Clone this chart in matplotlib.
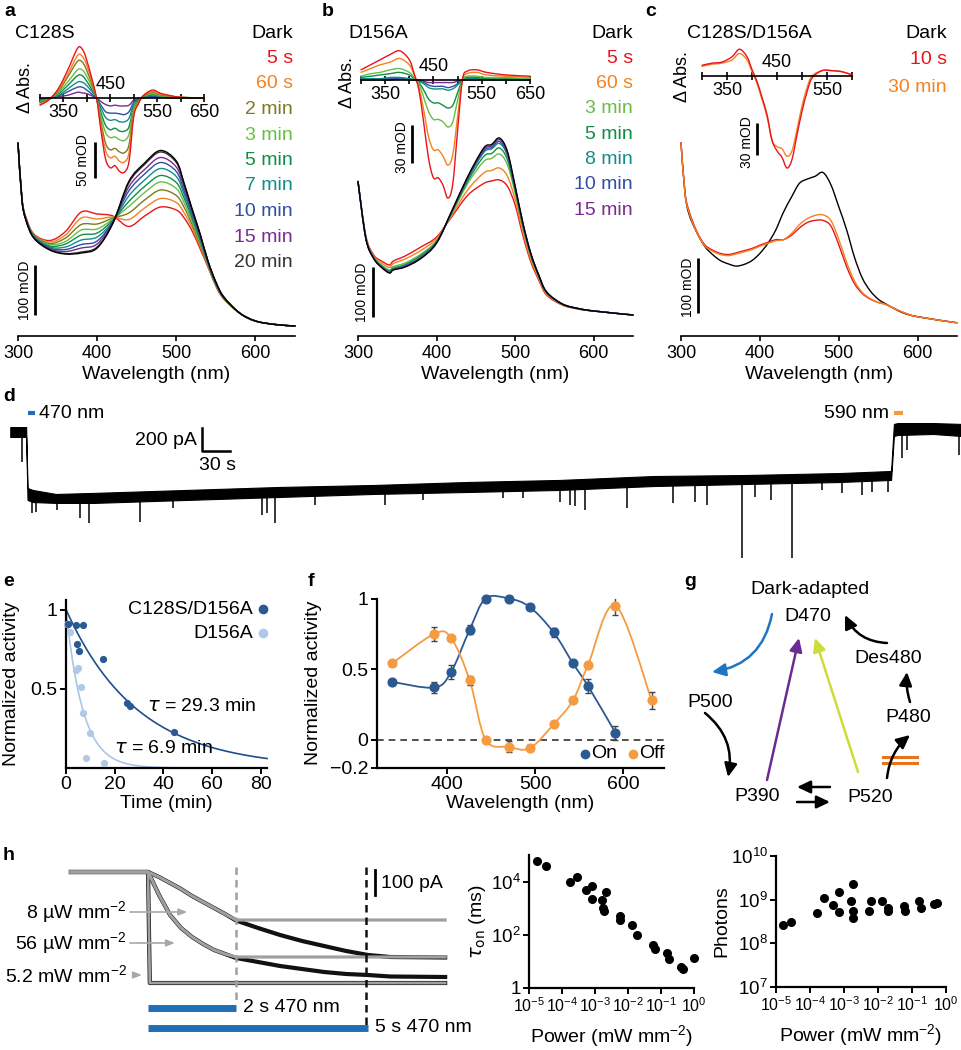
import numpy as np
import matplotlib
matplotlib.use('Agg')
import matplotlib.pyplot as plt
from matplotlib.path import Path
from matplotlib.patches import PathPatch
from matplotlib.lines import Line2D

plt.rcParams['font.family'] = ['Liberation Sans', 'DejaVu Sans']
plt.rcParams['mathtext.default'] = 'regular'
plt.rcParams['axes.linewidth'] = 1.2

W, H = 962, 1050

RED = '#e8141c'
ORANGE = '#f58220'
OLIVE = '#7d7a22'
LGREEN = '#6abd45'
GREEN = '#0f8f45'
TEAL = '#128e8a'
BLUE = '#2e4fa3'
PURPLE = '#7a2b8f'
DKBLUE = '#2b5a92'
LTBLUE = '#b0c9e6'
OFFOR = '#f59b42'

# ---------------- data: panel a (C128S) ----------------
a_wl = [300, 305, 310, 320, 340, 360, 380, 400, 420, 440, 460, 480, 500, 510,
        520, 530, 540, 550, 560, 580, 600, 625, 650]
a_labels = ['Dark', '5 s', '60 s', '2 min', '3 min', '5 min', '7 min', '10 min', '15 min', '20 min']
a_colors = ['black', RED, ORANGE, OLIVE, LGREEN, GREEN, TEAL, BLUE, PURPLE, '#333333']
a_abs = [
    [386, 272, 232, 196, 172, 164, 166, 176, 226, 309, 346, 371, 350, 305, 254, 205, 150, 108, 78, 46, 30, 23, 20],
    [386, 275, 238, 204, 191, 209, 248, 244, 240, 219, 240, 258, 252, 236, 210, 175, 138, 100, 74, 46, 30, 23, 20],
    [386, 275, 237, 203, 188, 202, 236, 234, 238, 233, 256, 275, 267, 246, 217, 180, 140, 101, 75, 46, 30, 23, 20],
    [386, 274, 236, 202, 185, 196, 223, 224, 236, 246, 272, 292, 281, 257, 223, 184, 142, 102, 75, 46, 30, 23, 20],
    [386, 274, 235, 200, 183, 189, 212, 214, 234, 259, 287, 308, 295, 266, 229, 188, 143, 104, 76, 46, 30, 23, 20],
    [386, 273, 235, 200, 180, 184, 202, 206, 232, 269, 299, 321, 307, 275, 235, 192, 145, 104, 76, 46, 30, 23, 20],
    [386, 273, 234, 199, 178, 178, 192, 198, 230, 280, 312, 335, 319, 283, 240, 195, 146, 105, 77, 46, 30, 23, 20],
    [386, 273, 233, 198, 176, 173, 183, 190, 229, 290, 324, 347, 329, 290, 245, 199, 148, 106, 77, 46, 30, 23, 20],
    [386, 272, 233, 197, 174, 169, 176, 184, 228, 298, 333, 357, 338, 297, 249, 201, 149, 107, 78, 46, 30, 23, 20],
    [386, 272, 232, 196, 173, 165, 168, 178, 226, 306, 343, 368, 347, 303, 253, 204, 150, 108, 78, 46, 30, 23, 20],
]
ai_wl = [300, 320, 340, 360, 380, 390, 400, 420, 430, 440, 450, 460, 470, 480,
         490, 500, 510, 520, 540, 560, 600, 650]
ai_diff = [
    [-10, -2, 14, 40, 69, 68, 52, 2, -45, -85, -97, -94, -102, -103, -88, -26, -8, 3, 11, 6, 1, 0],
    [-9, -2, 12, 34, 59, 58, 45, 2, -39, -73, -83, -81, -88, -89, -76, -22, -7, 3, 9, 5, 1, 0],
    [-7, -1, 10, 30, 51, 50, 38, 1, -33, -63, -72, -70, -75, -76, -65, -19, -6, 2, 8, 4, 1, 0],
    [-6, -1, 8, 23, 39, 39, 30, 1, -26, -48, -55, -54, -58, -59, -50, -15, -5, 2, 6, 3, 1, 0],
    [-5, -1, 6, 18, 31, 31, 23, 1, -20, -38, -44, -42, -46, -46, -40, -12, -4, 1, 5, 3, 0, 0],
    [-3, -1, 4, 13, 22, 22, 17, 1, -14, -27, -31, -30, -33, -33, -28, -8, -3, 1, 4, 2, 0, 0],
    [-2, 0, 3, 9, 15, 15, 11, 0, -10, -19, -21, -21, -22, -23, -19, -6, -2, 1, 2, 1, 0, 0],
    [-1, 0, 2, 4, 8, 7, 6, 0, -5, -9, -11, -10, -11, -11, -10, -3, -1, 0, 1, 1, 0, 0],
]

# ---------------- data: panel b (D156A) ----------------
b_wl = [300, 310, 320, 330, 340, 345, 360, 380, 400, 420, 440, 460, 470, 480,
        490, 500, 510, 520, 530, 540, 560, 580, 600, 650]
b_labels = ['Dark', '5 s', '60 s', '3 min', '5 min', '8 min', '10 min', '15 min']
b_colors = ['black', RED, ORANGE, LGREEN, GREEN, TEAL, BLUE, PURPLE]
b_abs = [
    [309, 195, 155, 137, 126, 132, 138, 155, 186, 252, 320, 376, 383, 396, 370, 300, 225, 165, 122, 88, 64, 55, 50, 42],
    [309, 200, 162, 150, 142, 150, 160, 178, 198, 240, 282, 305, 310, 312, 300, 262, 200, 148, 112, 82, 62, 54, 50, 42],
    [309, 199, 160, 146, 137, 145, 154, 171, 195, 243, 293, 326, 331, 336, 320, 273, 207, 153, 115, 84, 63, 54, 50, 42],
    [309, 197, 158, 142, 132, 139, 146, 164, 191, 247, 306, 349, 355, 364, 343, 286, 215, 159, 118, 86, 63, 55, 50, 42],
    [309, 196, 157, 140, 130, 136, 143, 161, 189, 249, 311, 359, 365, 376, 353, 291, 219, 161, 120, 87, 64, 55, 50, 42],
    [309, 196, 156, 139, 128, 134, 141, 158, 188, 250, 315, 367, 374, 385, 361, 295, 222, 163, 121, 87, 64, 55, 50, 42],
    [309, 195, 156, 138, 127, 133, 140, 157, 187, 251, 317, 370, 377, 389, 364, 297, 223, 164, 121, 88, 64, 55, 50, 42],
    [309, 195, 155, 138, 127, 133, 139, 156, 186, 252, 318, 373, 380, 393, 367, 298, 224, 164, 122, 88, 64, 55, 50, 42],
]
bi_wl = [300, 320, 340, 360, 380, 400, 410, 420, 430, 440, 450, 460, 470, 480,
         490, 500, 510, 520, 540, 560, 600, 650]
bi_diff = [
    [8, 12, 16, 20, 23, 16, 5, -8, -34, -62, -77, -77, -83, -93, -82, -40, 0, 7, 8, 6, 4, 3],
    [6, 9, 12, 14, 17, 12, 4, -6, -24, -45, -55, -55, -60, -67, -59, -29, 0, 5, 6, 4, 3, 2],
    [3, 5, 6, 8, 9, 6, 2, -3, -14, -25, -31, -31, -33, -37, -33, -16, 0, 3, 3, 2, 2, 1],
    [2, 3, 4, 5, 6, 4, 1, -2, -8, -15, -18, -18, -20, -22, -20, -10, 0, 2, 2, 1, 1, 1],
    [1, 1, 1, 2, 2, 1, 0, -1, -3, -6, -7, -7, -7, -8, -7, -4, 0, 1, 1, 0, 0, 0],
    [1, 1, 1, 1, 1, 1, 0, -1, -2, -4, -5, -5, -5, -6, -5, -3, 0, 0, 1, 0, 0, 0],
    [0, 0, 0, 0, 1, 0, 0, 0, -1, -2, -2, -2, -2, -2, -2, -1, 0, 0, 0, 0, 0, 0],
]

# ---------------- data: panel c (C128S/D156A) ----------------
c_wl = [300, 305, 310, 320, 330, 340, 350, 360, 370, 380, 390, 400, 410, 420, 430,
        440, 450, 460, 470, 480, 490, 500, 510, 520, 530, 540, 550, 560, 580, 600, 650]
c_labels = ['Dark', '10 s', '30 min']
c_colors = ['black', RED, ORANGE]
c_abs = [
    [351, 260, 222, 188, 163, 148, 137, 131, 127, 130, 137, 150, 168, 192, 225,
     252, 277, 285, 290, 297, 275, 235, 193, 143, 105, 82, 67, 58, 43, 35, 24],
    [351, 262, 228, 190, 166, 156, 150, 148, 151, 155, 159, 165, 170, 175, 175,
     183, 196, 206, 210, 210, 200, 166, 126, 95, 77, 67, 61, 57, 44, 35, 24],
    [351, 260, 225, 188, 164, 154, 148, 146, 149, 153, 157, 163, 168, 173, 175,
     186, 202, 213, 219, 220, 210, 176, 134, 100, 79, 68, 61, 57, 44, 35, 24],
]
ci_wl = [300, 320, 340, 360, 375, 390, 400, 410, 420, 430, 440, 450, 460, 470,
         480, 490, 500, 510, 520, 540, 560, 580, 600]
ci_diff = [
    [10, 12, 13, 18, 25, 18, 6, -5, -20, -36, -60, -70, -76, -86, -78, -55, -33, -15, -2, 5, 5, 4, 1],
    [9, 11, 12, 15, 21, 15, 4, -7, -22, -38, -60, -66, -68, -75, -70, -50, -28, -11, 0, 5, 5, 4, 1],
]

# ---------------- data: panel d (photocurrent) ----------------
d_time = [11, 28, 29.5, 35, 60, 100, 200, 300, 400, 500, 600, 700, 800, 900, 955, 958, 962, 1000, 1031]
d_upper = [43, 43, -487, -504, -539, -530, -504, -478, -461, -435, -417, -383, -374, -357, -339, 70, 78, 78, 70]
d_lower = [-43, -43, -591, -609, -617, -617, -591, -565, -539, -522, -504, -470, -452, -435, -417, -35, -26, -17, -35]
d_spike_t = [23.6, 34.3, 38.6, 61.1, 85.7, 95.4, 150, 185, 281, 286, 295, 338, 413, 453, 539, 561,
             600, 611, 616, 627, 672, 721, 745, 758, 795, 809, 826, 849, 881, 902, 924, 935, 952,
             967, 972, 1028]
d_spike_i = [-261, -704, -696, -678, -748, -791, -783, -661, -722, -704, -791, -635, -635, -591, -574, -574,
             -609, -635, -643, -678, -661, -617, -609, -635, -1096, -565, -591, -1096, -504, -530, -548, -522, -522,
             -226, -157, -200]

# ---------------- data: panel e ----------------
e_t_dark = [0.9, 4.1, 6.9, 4.4, 5.2, 15.3, 24.9, 26.4, 44.4]
e_v_dark = [0.91, 0.90, 0.90, 0.78, 0.74, 0.69, 0.41, 0.39, 0.23]
e_t_light = [0.6, 1.6, 4.1, 5.0, 6.2, 6.9, 9.8, 8.4, 15.4]
e_v_light = [0.91, 0.86, 0.62, 0.63, 0.51, 0.35, 0.22, 0.06, 0.03]
tau_dark = 29.3
tau_light = 6.9

# ---------------- data: panel f ----------------
f_wl = [338, 386, 405, 426, 444, 470, 494, 521, 543, 560, 591, 632]
f_on = [0.41, 0.37, 0.48, 0.78, 1.0, 1.0, 0.94, 0.76, 0.54, 0.38, 0.05]
f_on_err = [0.02, 0.04, 0.05, 0.03, 0.02, 0.02, 0.02, 0.03, 0.02, 0.05, 0.05]
f_off = [0.54, 0.75, 0.72, 0.42, 0.0, -0.05, -0.06, 0.11, 0.28, 0.53, 0.95, 0.28]
f_off_err = [0.02, 0.05, 0.02, 0.03, 0.02, 0.04, 0.02, 0.02, 0.02, 0.02, 0.07, 0.06]

# ---------------- data: panel h ----------------
h_t_gray = [-1.75, 0, 0.25, 0.5, 0.75, 1.0, 1.25, 1.5, 1.75, 2.0, 6.75]
h_56_gray = [0, 0, -92, -172, -224, -260, -288, -312, -328, -340, -340]
h_8_gray = [0, 0, -20, -44, -68, -96, -120, -144, -168, -192, -192]
h_t_black = [-1.75, 0, 0.25, 0.5, 0.75, 1.0, 1.25, 1.5, 1.75, 2.0, 2.5, 3.0, 3.5, 4.0, 4.5, 5.0, 5.5, 6.75]
h_56_black = [0, 0, -92, -172, -224, -260, -288, -312, -328, -344, -360, -376, -388, -400, -408, -412, -418, -420]
h_8_black = [0, 0, -20, -44, -68, -96, -120, -144, -168, -194, -224, -252, -276, -296, -316, -332, -340, -342]
h_t_52 = [-1.75, 0, 0.04, 6.75]
h_52 = [0, 0, -444, -444]

tau_power = [1.8e-5, 3.2e-5, 1.7e-4, 2.8e-4, 5.4e-4, 7.9e-4, 7.9e-4, 1.6e-3, 2.1e-3, 1.8e-3, 1.9e-3,
             5.8e-3, 5.8e-3, 0.013, 0.019, 0.056, 0.066, 0.15, 0.17, 0.40, 0.48, 1.0]
tau_on = [5.9e4, 3.8e4, 1.0e4, 1.45e4, 5000, 7100, 2300, 2100, 4000, 1020, 760,
          525, 350, 240, 100, 42, 29, 21, 12, 6.3, 5.4, 13]
ph_power = [1.6e-5, 2.7e-5, 1.6e-4, 2.6e-4, 4.9e-4, 7.2e-4, 7.2e-4, 1.6e-3, 1.9e-3, 1.9e-3, 1.9e-3,
            5.5e-3, 6.2e-3, 0.0135, 0.0195, 0.0195, 0.058, 0.063, 0.16, 0.18, 0.45, 0.54]
photons = [2.6e8, 3.0e8, 4.9e8, 1.12e9, 7.6e8, 1.48e9, 5.1e8, 9.3e8, 2.24e9, 5.6e8, 3.9e8,
           5.6e8, 9.3e8, 9.3e8, 6.3e8, 5.6e8, 7.2e8, 5.6e8, 9.3e8, 6.3e8, 7.8e8, 8.3e8]


fig = plt.figure(figsize=(W / 100, H / 100), dpi=100)


def px_axes(x0, y0, x1, y1):
    return fig.add_axes([x0 / W, 1 - y1 / H, (x1 - x0) / W, (y1 - y0) / H])


def ftext(x, y, s, **kw):
    kw.setdefault('ha', 'left')
    kw.setdefault('va', 'center')
    return fig.text(x / W, 1 - y / H, s, **kw)


def fdot(x, y, color, ms):
    fig.add_artist(Line2D([x / W], [1 - y / H], marker='o', ms=ms, color=color,
                          ls='none', transform=fig.transFigure))


def smooth(ax, xs, ys, color, lw=1.0, z=2):
    # smooth line through the points (Catmull-Rom drawn as Bezier segments)
    pts = list(zip(xs, ys))
    verts = [pts[0]]
    codes = [Path.MOVETO]
    n = len(pts)
    for i in range(n - 1):
        p0 = pts[i - 1] if i > 0 else pts[i]
        p1, p2 = pts[i], pts[i + 1]
        p3 = pts[i + 2] if i + 2 < n else pts[i + 1]
        c1 = (p1[0] + (p2[0] - p0[0]) / 6, p1[1] + (p2[1] - p0[1]) / 6)
        c2 = (p2[0] - (p3[0] - p1[0]) / 6, p2[1] - (p3[1] - p1[1]) / 6)
        verts += [c1, c2, p2]
        codes += [Path.CURVE4] * 3
    patch = PathPatch(Path(verts, codes), fill=False, edgecolor=color, lw=lw,
                      zorder=z, capstyle='round', joinstyle='round')
    patch.set_clip_on(False)
    ax.add_patch(patch)


def spectra_axes(x0, x1, ymax):
    ax = px_axes(x0, 140, x1, 336)
    ax.set_xlim(300, 650)
    ax.set_ylim(0, ymax)
    for s in ['top', 'right', 'left']:
        ax.spines[s].set_visible(False)
    ax.set_yticks([])
    ax.set_xticks([300, 400, 500, 600])
    ax.tick_params(axis='x', direction='out', length=3.6, width=1.2, labelsize=13, pad=3)
    ax.set_xlabel('Wavelength (nm)', fontsize=14, labelpad=3)
    ax.patch.set_visible(False)
    return ax


def inset_axes(x0, x1, y0, y1, xmax, ylo, yhi, ticks, labels, above):
    ax = px_axes(x0, y0, x1, y1)
    ax.set_xlim(300, xmax)
    ax.set_ylim(ylo, yhi)
    for s in ['top', 'right', 'left']:
        ax.spines[s].set_visible(False)
    ax.spines['bottom'].set_position(('data', 0))
    ax.set_yticks([])
    ax.set_xticks(ticks)
    ax.set_xticklabels(labels)
    ax.tick_params(axis='x', direction='inout', length=6, width=1.2, labelsize=13, pad=1.5)
    ax.annotate(str(above), xy=(above, 0), xytext=(0, 3.5), textcoords='offset points',
                ha='center', va='bottom', fontsize=13)
    ax.patch.set_visible(False)
    return ax


def scale_bar(ax, x, y0, y1, label, lx, ly):
    ax.plot([x, x], [y0, y1], color='black', lw=2, solid_capstyle='butt', clip_on=False)
    ax.text(lx, ly, label, rotation=90, ha='center', va='center', fontsize=10)


# ================= panel a =================
ftext(4, 12, 'a', fontsize=14, fontweight='bold')
ftext(15, 33, 'C128S', fontsize=14)
for i, (lab, col) in enumerate(zip(a_labels, a_colors)):
    ftext(293, 33 + 25.5 * i, lab, color=col, ha='right', fontsize=14)
ax_a = spectra_axes(18, 295, 392)
for k in list(range(1, 10)) + [0]:
    smooth(ax_a, a_wl, a_abs[k], a_colors[k], lw=1.0)
scale_bar(ax_a, 321.5, 42, 142, '100 mOD', 309, 92)
ax_ai = inset_axes(40, 204, 40, 180, 650, -113.9, 80.6,
                   [300, 350, 400, 450, 500, 550, 600, 650],
                   ['', '350', '', '', '', '550', '', '650'], 450)
for k in range(len(ai_diff) - 1, -1, -1):
    smooth(ax_ai, ai_wl, ai_diff[k], a_colors[k + 1], lw=1.0)
scale_bar(ax_ai, 417, -61, -111, '50 mOD', 391.5, -86)
ftext(25, 88, 'Δ Abs.', rotation=90, ha='center', fontsize=13)

# ================= panel b =================
ftext(322, 12, 'b', fontsize=14, fontweight='bold')
ftext(348, 33, 'D156A', fontsize=14)
for i, (lab, col) in enumerate(zip(b_labels, b_colors)):
    ftext(633, 33 + 25.3 * i, lab, color=col, ha='right', fontsize=14)
ax_b = spectra_axes(358, 633, 392)
for k in list(range(1, 8)) + [0]:
    smooth(ax_b, b_wl, b_abs[k], b_colors[k], lw=1.0)
scale_bar(ax_b, 319, 38, 138, '100 mOD', 305, 88)
ax_bi = inset_axes(361, 530, 40, 205, 650, -98.4, 31.5,
                   [300, 350, 400, 450, 500, 550, 600, 650],
                   ['', '350', '', '', '', '550', '', '650'], 450)
for k in range(len(bi_diff) - 1, -1, -1):
    smooth(ax_bi, bi_wl, bi_diff[k], b_colors[k + 1], lw=1.0)
scale_bar(ax_bi, 405.6, -35.4, -65.4, '30 mOD', 385, -53)
ftext(348, 83, 'Δ Abs.', rotation=90, ha='center', fontsize=13)

# ================= panel c =================
ftext(645, 12, 'c', fontsize=14, fontweight='bold')
ftext(687, 33, 'C128S/D156A', fontsize=14)
for i, (lab, col) in enumerate(zip(c_labels, c_colors)):
    ftext(947, 33 + 27 * i, lab, color=col, ha='right', fontsize=14)
ax_c = spectra_axes(681, 957, 356)
for k in [0, 1, 2]:
    smooth(ax_c, c_wl, c_abs[k], c_colors[k], lw=1.0)
scale_bar(ax_c, 321.5, 42, 142, '100 mOD', 309, 89)
ax_ci = inset_axes(702, 852, 44, 172, 600, -89.7, 29.9,
                   [300, 350, 400, 450, 500, 550, 600],
                   ['', '350', '', '', '', '550', ''], 450)
for k in [1, 0]:
    smooth(ax_ci, ci_wl, ci_diff[k], c_colors[k + 1], lw=1.0)
scale_bar(ax_ci, 410, -44, -74, '30 mOD', 390, -62)
ftext(683, 77, 'Δ Abs.', rotation=90, ha='center', fontsize=13)

# ================= panel d =================
ftext(3, 396, 'd', fontsize=14, fontweight='bold')
ax_d = px_axes(0, 405, 962, 565)
ax_d.set_xlim(0, 1031)
ax_d.set_ylim(-1157, 235)
ax_d.axis('off')
ax_d.fill_between(d_time, d_lower, d_upper, color='black', lw=0.8)
spike_top = np.interp(d_spike_t, d_time, d_lower)
ax_d.vlines(d_spike_t, d_spike_i, spike_top, color='black', lw=1.1)
ax_d.plot([30, 37.5], [165, 165], color='#1f6fb7', lw=3, solid_capstyle='butt')
ax_d.text(42, 165, '470 nm', ha='left', va='center', fontsize=14)
ax_d.plot([958, 968], [165, 165], color=OFFOR, lw=3, solid_capstyle='butt')
ax_d.text(953, 165, '590 nm', ha='right', va='center', fontsize=14)
ax_d.plot([216.5, 216.5, 246.5], [35, -165, -165], color='black', lw=1.8)
ax_d.text(211, -70, '200 pA', ha='right', va='center', fontsize=14)
ax_d.text(232.6, -287, '30 s', ha='center', va='center', fontsize=14)

# ================= panel e =================
ftext(3, 581, 'e', fontsize=14, fontweight='bold')
ax_e = px_axes(66, 600, 267, 768)
ax_e.set_xlim(0, 82.5)
ax_e.set_ylim(0, 1.06)
for s in ['top', 'right']:
    ax_e.spines[s].set_visible(False)
for s in ['left', 'bottom']:
    ax_e.spines[s].set_linewidth(1.6)
ax_e.set_xticks([0, 20, 40, 60, 80])
ax_e.set_yticks([0.5, 1])
ax_e.set_yticklabels(['0.5', '1'])
ax_e.tick_params(direction='out', length=4, width=1.4, labelsize=14, pad=2)
ax_e.set_xlabel('Time (min)', fontsize=14, labelpad=1)
tt = np.linspace(0, 82.5, 300)
ax_e.plot(tt, np.exp(-tt / tau_light), color='#a9c6e8', lw=1.2, clip_on=False)
ax_e.plot(tt, np.exp(-tt / tau_dark), color='#1f4e8c', lw=1.2, clip_on=False)
ax_e.plot(e_t_light, e_v_light, 'o', color=LTBLUE, ms=4.2, clip_on=False, zorder=3)
ax_e.plot(e_t_dark, e_v_dark, 'o', color=DKBLUE, ms=4.2, clip_on=False, zorder=3)
ax_e.text(33.2, 0.39, r'$\mathit{\tau}$ = %.1f min' % tau_dark, fontsize=14, ha='left', va='center')
ax_e.text(19.8, 0.12, r'$\mathit{\tau}$ = %.1f min' % tau_light, fontsize=14, ha='left', va='center')
ftext(12, 684, 'Normalized activity', rotation=90, ha='center', fontsize=14)
ftext(253, 609, 'C128S/D156A', ha='right', fontsize=14)
ftext(253, 633, 'D156A', ha='right', fontsize=14)
fdot(263, 609, DKBLUE, 6)
fdot(263, 633, LTBLUE, 6)

# ================= panel f =================
ftext(308, 581, 'f', fontsize=14, fontweight='bold')
ax_f = px_axes(376.7, 598.5, 664, 768)
ax_f.set_xlim(320.7, 646)
ax_f.set_ylim(-0.2, 1.0)
for s in ['top', 'right']:
    ax_f.spines[s].set_visible(False)
for s in ['left', 'bottom']:
    ax_f.spines[s].set_linewidth(1.6)
ax_f.set_xticks([400, 500, 600])
ax_f.set_yticks([-0.2, 0, 0.5, 1])
ax_f.set_yticklabels(['\u22120.2', '0', '0.5', '1'])
ax_f.tick_params(direction='out', length=4, width=1.4, labelsize=14, pad=2)
ax_f.set_xlabel('Wavelength (nm)', fontsize=14, labelpad=1)
ax_f.plot([320.7, 646], [0, 0], ls=(0, (4, 3)), color='#333333', lw=1.2, clip_on=False)
smooth(ax_f, f_wl[:len(f_on)], f_on, DKBLUE, lw=1.3)
smooth(ax_f, f_wl, f_off, OFFOR, lw=1.3)
ax_f.errorbar(f_wl[:len(f_on)], f_on, yerr=f_on_err, fmt='none', ecolor='#444444',
              elinewidth=1, capsize=2.5, capthick=1, zorder=3)
ax_f.errorbar(f_wl, f_off, yerr=f_off_err, fmt='none', ecolor='#444444',
              elinewidth=1, capsize=2.5, capthick=1, zorder=3)
ax_f.plot(f_wl[:len(f_on)], f_on, 'o', color=DKBLUE, ms=6.3, zorder=4, clip_on=False)
ax_f.plot(f_wl, f_off, 'o', color=OFFOR, ms=6.3, zorder=4, clip_on=False)
ftext(314, 683, 'Normalized activity', rotation=90, ha='center', fontsize=14)
fdot(585, 754, DKBLUE, 6)
ftext(591, 754, 'On', fontsize=14)
fdot(633, 754, OFFOR, 6)
ftext(639, 754, 'Off', fontsize=14)

# ================= panel g =================
ftext(684, 581, 'g', fontsize=14, fontweight='bold')
ax_g = px_axes(660, 560, 962, 830)
ax_g.set_xlim(660, 962)
ax_g.set_ylim(830, 560)
ax_g.axis('off')
for s, x, y in [('Dark-adapted', 810, 590), ('D470', 808, 617), ('Des480', 888, 659),
                ('P500', 710, 703), ('P480', 908, 718), ('P390', 757, 797), ('P520', 870, 798)]:
    ax_g.text(x, y, s, ha='center', va='center', fontsize=14)


def g_arrow(start, end, color, rad=0.0, lw=1.8):
    ax_g.annotate('', xy=end, xytext=start,
                  arrowprops=dict(arrowstyle='-|>,head_length=0.8,head_width=0.38',
                                  mutation_scale=10, color=color, lw=lw,
                                  connectionstyle='arc3,rad=%s' % rad,
                                  shrinkA=0, shrinkB=0))


g_arrow((772, 614), (712, 672), '#1f75c0', rad=-0.35)
g_arrow((887, 643), (845, 615), 'black', rad=-0.3)
g_arrow((705, 713), (728, 777), 'black', rad=-0.3)
g_arrow((767, 780), (799, 638), '#6a2c91')
g_arrow((858, 772), (815, 638), '#cddc3a')
g_arrow((830, 787), (797, 787), 'black')
g_arrow((797, 802), (830, 802), 'black')
g_arrow((887, 778), (910, 735), 'black', rad=-0.2)
g_arrow((910, 702), (907, 672), 'black', rad=-0.1)
ax_g.plot([883, 917], [757, 757], color='#e8731e', lw=2.2)
ax_g.plot([883, 917], [763, 763], color='#e8731e', lw=2.2)

# ================= panel h (left: traces) =================
ftext(3, 856, 'h', fontsize=14, fontweight='bold')
ax_h = px_axes(60, 860, 450, 1040)
ax_h.set_xlim(-2.0, 6.86)
ax_h.set_ylim(-672, 48)
ax_h.axis('off')
for yv in [h_8_black, h_56_black]:
    ax_h.plot(h_t_black, yv, color='#111111', lw=3.0)
ax_h.plot(h_t_52, h_52, color='#111111', lw=3.0)
for yv in [h_8_gray, h_56_gray]:
    ax_h.plot(h_t_gray, yv, color='#a0a0a0', lw=2.3)
ax_h.plot(h_t_52, h_52, color='#a0a0a0', lw=2.0)
ax_h.plot([2, 2], [20, -512], ls=(0, (3, 2)), color='#a0a0a0', lw=1.8)
ax_h.plot([4.95, 4.95], [20, -632], ls=(0, (3, 2)), color='#111111', lw=1.8)
ax_h.plot([0, 2], [-544, -544], color='#1f6fb7', lw=5, solid_capstyle='butt')
ax_h.plot([0, 5], [-624, -624], color='#1f6fb7', lw=5, solid_capstyle='butt')
ax_h.text(2.16, -544, '2 s 470 nm', ha='left', va='center', fontsize=14)
ax_h.text(5.16, -624, '5 s 470 nm', ha='left', va='center', fontsize=14)
ax_h.plot([5.16, 5.16], [8, -92], color='black', lw=2)
ax_h.text(5.3, -44, '100 pA', ha='left', va='center', fontsize=14)
for lab, y, x0, x1 in [('8 µW mm$^{\u22122}$', -160, -0.41, 0.89),
                       ('56 µW mm$^{\u22122}$', -284, -0.41, 0.61),
                       ('5.2 mW mm$^{\u22122}$', -412, -0.32, -0.14)]:
    ax_h.annotate('', xy=(x1, y), xytext=(x0, y),
                  arrowprops=dict(arrowstyle='-|>,head_length=0.5,head_width=0.2',
                                  mutation_scale=10, color='#a8a8a8', lw=1.2,
                                  shrinkA=0, shrinkB=0))
    ax_h.text(-0.48, y, lab, ha='right', va='center', fontsize=14)

# ================= panel h (middle and right) =================


def log_axes(box, ylim, yticks, ylabels, ylabel, pad):
    ax = px_axes(*box)
    ax.set_xscale('log')
    ax.set_yscale('log')
    ax.set_xlim(1e-5, 1)
    ax.set_ylim(*ylim)
    for s in ['top', 'right']:
        ax.spines[s].set_visible(False)
    for s in ['left', 'bottom']:
        ax.spines[s].set_linewidth(1.6)
    ax.set_xticks([1e-5, 1e-4, 1e-3, 1e-2, 1e-1, 1])
    ax.set_xticklabels(['10$^{\u22125}$', '10$^{\u22124}$', '10$^{\u22123}$',
                        '10$^{\u22122}$', '10$^{\u22121}$', '10$^{0}$'])
    ax.set_yticks(yticks)
    ax.set_yticklabels(ylabels)
    ax.minorticks_off()
    ax.tick_params(axis='x', direction='out', length=4, width=1.4, labelsize=11.5, pad=2)
    ax.tick_params(axis='y', direction='out', length=4, width=1.4, labelsize=13.5, pad=2)
    ax.set_xlabel('Power (mW mm$^{\u22122}$)', fontsize=14, labelpad=6)
    ax.set_ylabel(ylabel, fontsize=14, labelpad=pad)
    return ax


ax_t = log_axes((529, 855, 694, 988), (1, 1e5), [1, 1e2, 1e4], ['1', '10$^2$', '10$^4$'],
                r'$\mathit{\tau}_{\rm on}$ (ms)', 2)
ax_t.plot(tau_power, tau_on, 'o', color='black', ms=5.5, clip_on=False)
ax_p = log_axes((776, 856, 946, 987), (1e7, 1e10), [1e7, 1e8, 1e9, 1e10],
                ['10$^7$', '10$^8$', '10$^9$', '10$^{10}$'], 'Photons', 0)
ax_p.plot(ph_power, photons, 'o', color='black', ms=5.5, clip_on=False)

fig.savefig('out.png', dpi=100)
